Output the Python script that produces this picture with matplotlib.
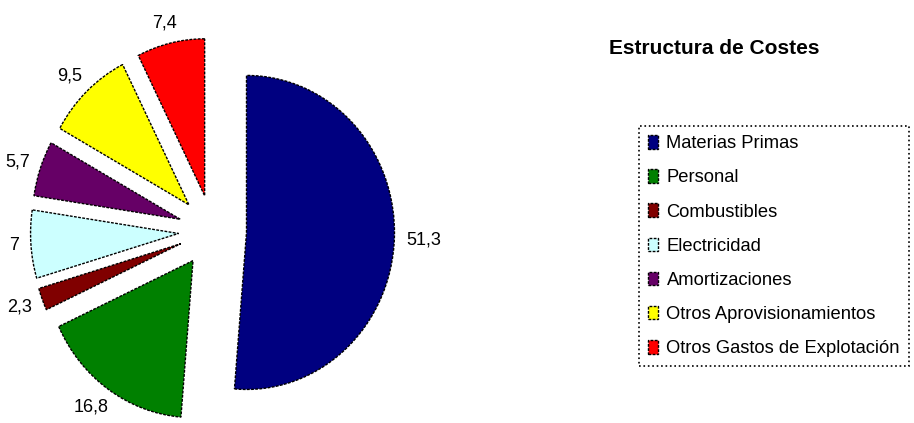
import matplotlib
matplotlib.use("Agg")
from matplotlib import pyplot as plt
import numpy as np

plt.rcParams["font.family"] = ["Liberation Sans", "DejaVu Sans"]

categorias = ["Materias Primas", "Personal", "Combustibles", "Electricidad",
              "Amortizaciones", "Otros Aprovisionamientos", "Otros Gastos de Explotación"]
valores = [51.3, 16.8, 2.3, 7, 5.7, 9.5, 7.4]
etiquetas = ["51,3", "16,8", "2,3", "7", "5,7", "9,5", "7,4"]
colores = ["#000080", "#008000", "#800000", "#CCFFFF", "#660066", "#FFFF00", "#FF0000"]

W, H = 914, 423
fig = plt.figure(figsize=(W / 100, H / 100), dpi=100)

# osa kolace - stred cca (212, 231) px, polomer ~148 x 157 px
ax = fig.add_axes([0, 0, 425 / W, 1])
wedges, texts = ax.pie(valores, labels=etiquetas, colors=colores, startangle=90,
                       counterclock=False, explode=[0.23] * len(valores),
                       labeldistance=1.08,
                       wedgeprops={"edgecolor": "black", "linewidth": 1,
                                   "linestyle": (0, (2, 1))},
                       textprops={"fontsize": 13})
ax.set_aspect("auto")
ax.set_xlim(-1.436, 1.436)
ax.set_ylim(-1.223, 1.471)
ax.axis("off")

# popisky posunout ven jako v Excelu (okraj textu se dotyka kruhu)
fig.canvas.draw()
r = fig.canvas.get_renderer()
for w, t in zip(wedges, texts):
    uhel = np.deg2rad((w.theta1 + w.theta2) / 2)
    t.set_ha("center")
    t.set_va("center")
    bb = t.get_window_extent(r)
    x, y = ax.transData.transform(t.get_position())
    x += bb.width / 2 * np.cos(uhel)
    y += bb.height / 2 * np.sin(uhel)
    t.set_position(ax.transData.inverted().transform((x, y)))

fig.text(714 / W, 1 - 48 / H, "Estructura de Costes", ha="center", va="center",
         fontsize=15, fontweight="bold")

leg = fig.legend(wedges, categorias, loc="upper left",
                 bbox_to_anchor=(639 / W, 1 - 126 / H), borderaxespad=0,
                 fontsize=13.2, handlelength=0.55, handleheight=0.75,
                 handletextpad=0.45, labelspacing=0.93, borderpad=0.5,
                 fancybox=False, framealpha=1)
leg.get_frame().set_edgecolor("black")
leg.get_frame().set_linestyle(":")
leg.get_frame().set_linewidth(1.2)

fig.savefig("out.png", dpi=100)
